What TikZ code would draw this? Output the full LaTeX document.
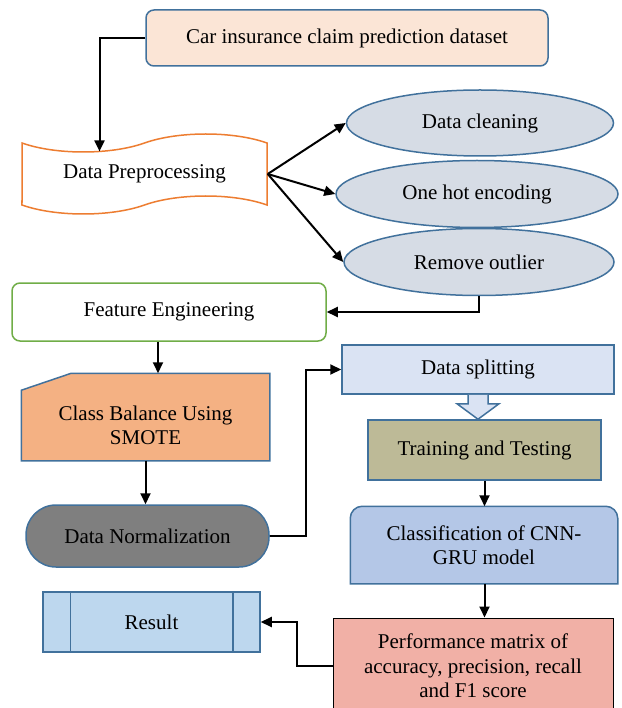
\documentclass[tikz,border=0pt]{standalone}
\usepackage{fontspec}
\setmainfont{Liberation Serif}
\newfontfamily\tnr{Liberation Serif}
\usetikzlibrary{arrows.meta,calc,backgrounds,shapes.geometric,shapes.symbols}
\definecolor{borde}{RGB}{65,113,156}
\definecolor{durazno}{RGB}{251,229,214}
\definecolor{naranja}{RGB}{237,125,49}
\definecolor{elipsefill}{RGB}{214,220,229}
\definecolor{verde}{RGB}{112,173,71}
\definecolor{smotefill}{RGB}{244,177,131}
\definecolor{gris}{RGB}{127,127,127}
\definecolor{splitfill}{RGB}{218,227,243}
\definecolor{oliva}{RGB}{189,186,151}
\definecolor{cnnfill}{RGB}{180,199,231}
\definecolor{resfill}{RGB}{189,215,238}
\definecolor{salmon}{RGB}{241,176,166}

\begin{document}
\begin{tikzpicture}[x=1pt,y=-1pt,
base/.style={draw=borde,line width=1.5pt,align=center,inner sep=0pt,font=\tnr\fontsize{21}{24.5}\selectfont},
caja/.style={base,rounded corners=8pt},
elipse/.style={base,ellipse,fill=elipsefill},
arr/.style={-{Triangle[length=11pt,width=10pt]},line width=2pt}
]
\useasboundingbox (0,0) rectangle (621,708);

\node[caja,fill=durazno,minimum width=402pt,minimum height=56pt] (dataset) at (347,38) {Car insurance claim prediction dataset};
\node[base,tape,draw=naranja,fill=white,tape bend height=18pt,minimum width=245pt,minimum height=80pt] (prep) at (144.5,174) {Data Preprocessing};

\node[elipse,minimum width=267pt,minimum height=66pt] (clean) at (480,123) {Data cleaning};
\node[elipse,minimum width=282pt,minimum height=67pt] (onehot) at (477,194) {One hot encoding};
\node[elipse,minimum width=270pt,minimum height=67pt] (outlier) at (479,262) {Remove outlier};

\node[caja,draw=verde,fill=white,minimum width=314pt,minimum height=58pt] (feat) at (169,312) {Feature Engineering};
\node[base,draw=none,minimum width=247pt,minimum height=69pt] (cls) at (145.5,425.5) {Class Balance Using\\SMOTE};
\node[base,rounded corners=30pt,fill=gris,minimum width=243pt,minimum height=62pt] (norm) at (147.5,536) {Data Normalization};

\node[base,fill=splitfill,minimum width=272pt,minimum height=49pt] (split) at (478,369.5) {Data splitting};
\node[base,fill=oliva,minimum width=233pt,minimum height=60pt] (train) at (484.5,450) {Training and Testing};
\node[base,draw=none,minimum width=266pt,minimum height=76pt] (cnn) at (484,545) {Classification of CNN-\\GRU model};
\node[base,draw=black,line width=1pt,fill=salmon,minimum width=280pt,minimum height=96pt] (perf) at (473,666) {Performance matrix of\\accuracy, precision, recall\\and F1 score};
\node[base,fill=resfill,minimum width=217pt,minimum height=60pt] (res) at (151.5,622) {Result};

% card and top-rounded box
\begin{scope}[on background layer]
\draw[draw=borde,line width=1.5pt,fill=smotefill] (cls.north west) -- ([xshift=50pt,yshift=17pt]cls.north west) -- ([yshift=17pt]cls.north east) -- (cls.south east) -- (cls.south west) -- cycle;
\draw[draw=borde,line width=1.5pt,fill=cnnfill] (cnn.south west) [rounded corners=12pt] -- (cnn.north west) -- (cnn.north east) [sharp corners] -- (cnn.south east) -- cycle;
\end{scope}
\draw[borde,line width=1.5pt] ([xshift=28pt]res.north west) -- ([xshift=28pt]res.south west);
\draw[borde,line width=1.5pt] ([xshift=-28pt]res.north east) -- ([xshift=-28pt]res.south east);

\draw[arr] (dataset.west) -| ([xshift=-45pt,yshift=-9pt]prep.north);
\draw[arr] (prep.east) -- (clean.west);
\draw[arr] (prep.east) -- (onehot.west);
\draw[arr] (prep.east) -- (outlier.west);
\draw[arr] (outlier.south) |- (feat.east);
\draw[arr] ([xshift=-11pt]feat.south) -- ([xshift=-11pt,yshift=17pt]feat.south |- cls.north);
\draw[arr] (cls.south) -- (cls.south |- norm.north);
\draw[arr] (norm.east) -- ++(36,0) |- (split.west);
% block arrow
\draw[borde,line width=1.5pt,fill=splitfill] ([xshift=-10pt]split.south) -- ([xshift=-10pt,yshift=-9pt]split.south) -- ([xshift=-21pt,yshift=-9pt]split.south) -- (split.south |- train.north) -- ([xshift=21pt,yshift=-9pt]split.south) -- ([xshift=10pt,yshift=-9pt]split.south) -- ([xshift=10pt]split.south);
\draw[arr] (train.south) -- (train.south |- cnn.north);
\draw[arr] (train.south |- cnn.south) -- (train.south |- perf.north);
\draw[arr] (perf.west) -- ++(-36,0) |- (res.east);
\end{tikzpicture}
\end{document}
